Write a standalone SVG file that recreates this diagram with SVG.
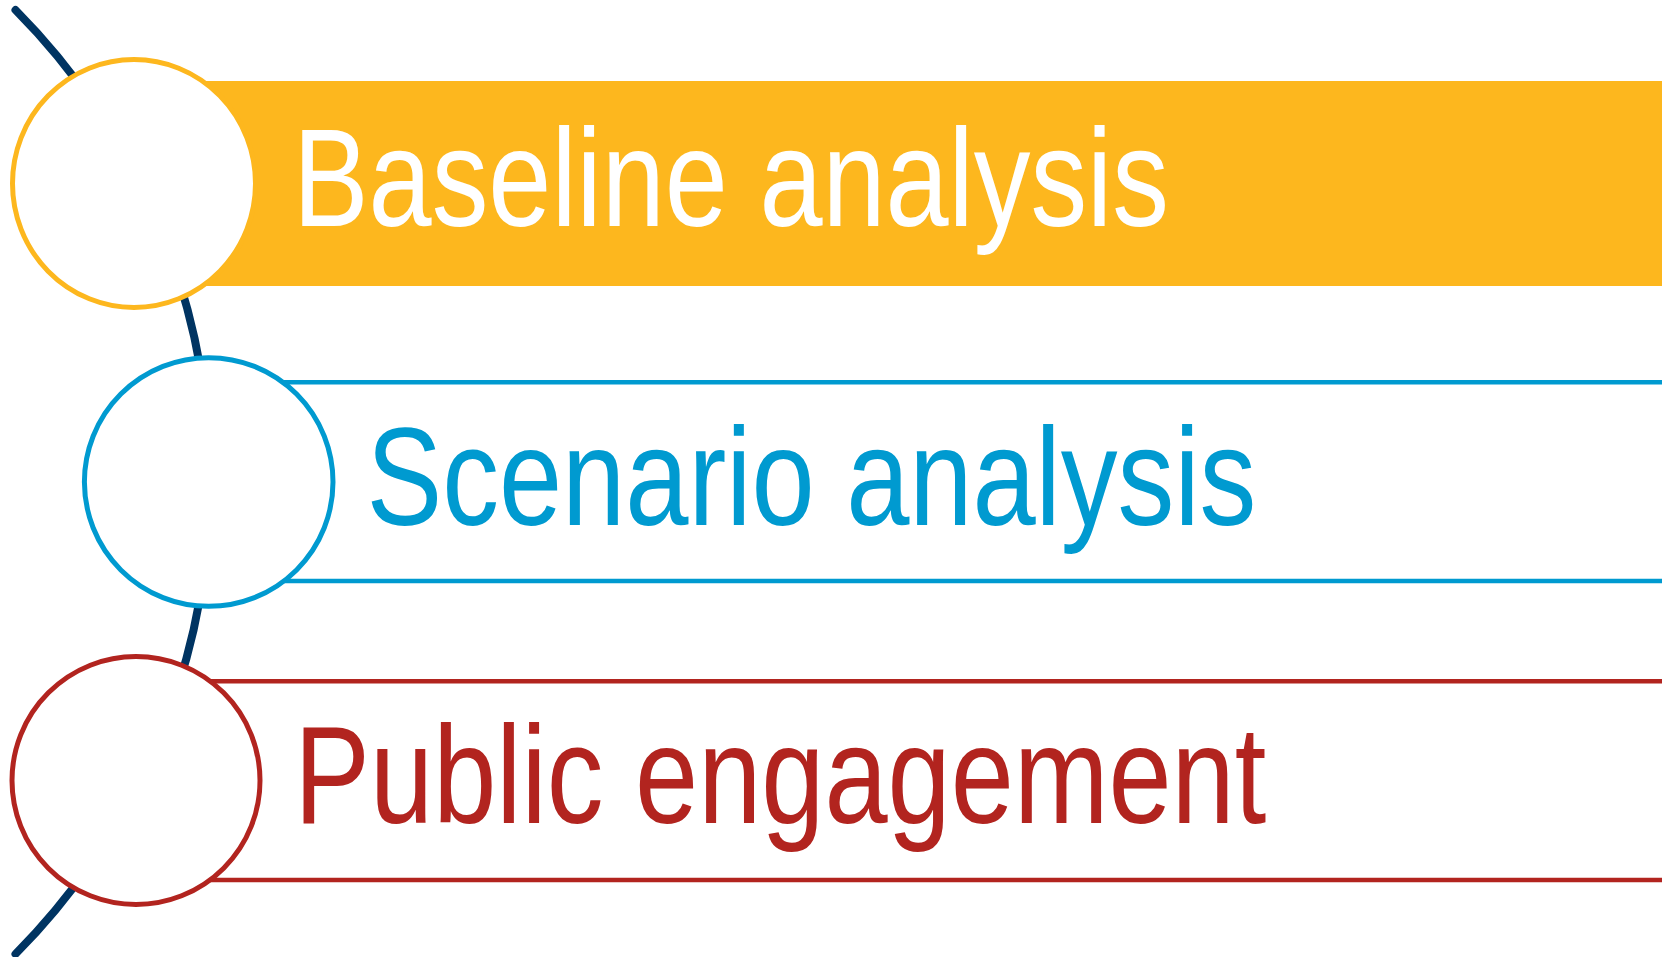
<svg xmlns="http://www.w3.org/2000/svg" width="1662" height="957" viewBox="0 0 1662 957">
  <style>
    .node-circle { fill: #ffffff; stroke-width: 5; }
    .label { font-family: "Liberation Sans", Arial, sans-serif; font-size: 139px; }
    .rule { stroke-width: 4.6; fill: none; }
  </style>
  <rect width="1662" height="957" fill="#ffffff"/>
  <g id="connectors">
    <path d="M 15.5 10 A 670 670 0 0 1 15.5 954" fill="none" stroke="#003462" stroke-width="8" stroke-linecap="round"/>
  </g>
  <g id="node-baseline">
    <rect x="200" y="81" width="1462" height="205" fill="#FDB71E"/>
    <ellipse class="node-circle" cx="134" cy="183.5" rx="121.5" ry="124" stroke="#FDB71E"/>
    <text class="label" x="293" y="225.5" fill="#ffffff" textLength="876" lengthAdjust="spacingAndGlyphs">Baseline analysis</text>
  </g>
  <g id="node-scenario">
    <line class="rule" x1="209" y1="382.3" x2="1662" y2="382.3" stroke="#009AD0"/>
    <line class="rule" x1="209" y1="581" x2="1662" y2="581" stroke="#009AD0"/>
    <circle class="node-circle" cx="208.7" cy="482" r="124.3" stroke="#009AD0"/>
    <text class="label" x="366.4" y="525" fill="#009AD0" textLength="890" lengthAdjust="spacingAndGlyphs">Scenario analysis</text>
  </g>
  <g id="node-public">
    <line class="rule" x1="136" y1="681.3" x2="1662" y2="681.3" stroke="#B2241F"/>
    <line class="rule" x1="136" y1="880" x2="1662" y2="880" stroke="#B2241F"/>
    <circle class="node-circle" cx="136" cy="780.5" r="124" stroke="#B2241F"/>
    <text class="label" x="294.3" y="822.7" fill="#B2241F" textLength="972" lengthAdjust="spacingAndGlyphs">Public engagement</text>
  </g>
</svg>
